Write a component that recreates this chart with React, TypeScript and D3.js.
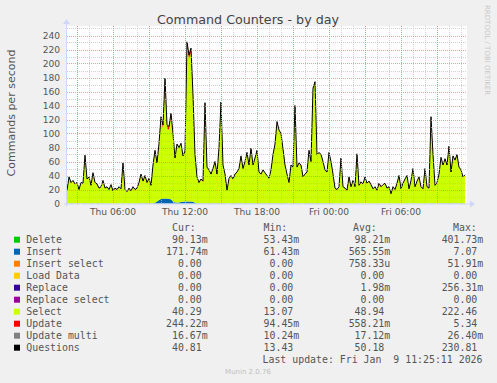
import React from 'react';
import * as d3 from 'd3';

// Questions (black line), 10-minute samples
const questions = [
  19,38,30,33,28,30,20,30,29,69,35,38,26,44,30,28,22,24,33,22,
  24,20,27,18,22,20,24,21,58,20,17,22,18,24,20,22,30,42,32,40,
  30,36,26,55,76,58,86,124,112,179,113,110,129,100,65,85,80,86,68,75,
  231,212,222,155,70,38,30,35,32,144,52,48,42,50,60,42,80,145,55,42,
  19,36,40,35,42,45,50,68,50,60,73,55,79,55,65,76,45,42,48,44,
  40,36,48,70,85,117,105,100,78,55,42,30,55,52,140,52,58,55,38,42,
  45,76,60,165,174,70,73,70,60,48,45,73,60,42,22,20,24,65,24,22,
  19,38,24,33,24,71,26,31,28,38,29,32,27,21,24,19,29,24,27,29,
  22,24,14,24,20,29,40,21,29,35,40,21,33,50,24,32,38,24,21,50,
  24,22,124,70,26,30,42,66,55,64,55,82,45,68,62,70,52,48,38,41,
];

// Select (yellow-green stacked area)
const select = [
  18,37,29,32,27,29,19,29,28,68,34,37,25,43,29,27,21,23,32,21,
  23,19,26,17,21,19,23,20,57,19,16,21,17,23,19,21,29,41,31,39,
  29,35,25,54,74.5,54.5,80.5,115,100.5,166.5,100.5,99,119.5,96.5,63,83,78,83.5,65,71.5,
  222.5,203.5,213.5,149,68.5,37,29,34,31,143,51,47,41,49,59,41,79,144,54,41,
  18,35,39,34,41,44,49,67,49,59,72,54,78,54,64,75,44,41,47,43,
  39,35,47,69,84,116,104,99,77,54,41,29,54,51,139,51,57,54,37,41,
  44,75,59,164,173,69,72,69,59,47,44,72,59,41,21,19,23,64,23,21,
  18,37,23,32,23,70,25,30,27,37,28,31,26,20,23,18,28,23,26,28,
  21,23,13,23,19,28,39,20,28,34,39,20,32,49,23,31,37,23,20,49,
  23,21,123,69,25,29,41,65,54,63,54,81,44,67,61,69,51,47,37,40.3,
];

// Insert (blue stacked area)
const insert = [
  0.2,0.1,0.2,0.2,0.1,0.2,0.2,0.1,0.2,0.3,0.2,0.1,0.2,0.2,0.1,0.2,0.2,0.1,0.2,0.1,
  0.2,0.1,0.2,0.1,0.1,0.2,0.1,0.1,0.3,0.1,0.1,0.2,0.1,0.1,0.2,0.1,0.2,0.2,0.2,0.2,
  0.2,0.2,0.2,0.3,1,3,5,6.5,7,7,7,6.5,6,3,1.5,1.5,1.5,2,2.5,3,
  3,3,3,2.5,1,0.3,0.2,0.2,0.2,0.4,0.2,0.2,0.2,0.2,0.3,0.2,0.2,0.4,0.2,0.2,
  0.1,0.2,0.2,0.2,0.2,0.2,0.2,0.3,0.2,0.2,0.3,0.2,0.3,0.2,0.2,0.3,0.2,0.2,0.2,0.2,
  0.2,0.2,0.2,0.2,0.3,0.4,0.3,0.3,0.2,0.2,0.2,0.1,0.2,0.2,0.4,0.2,0.2,0.2,0.1,0.2,
  0.2,0.3,0.2,0.4,0.4,0.2,0.2,0.2,0.2,0.2,0.2,0.2,0.2,0.2,0.1,0.1,0.1,0.2,0.1,0.1,
  0.1,0.2,0.1,0.1,0.1,0.2,0.1,0.1,0.1,0.1,0.1,0.1,0.1,0.1,0.1,0.1,0.1,0.1,0.1,0.1,
  0.1,0.1,0.1,0.1,0.1,0.1,0.2,0.1,0.1,0.1,0.2,0.1,0.1,0.2,0.1,0.1,0.2,0.1,0.1,0.2,
  0.1,0.1,0.3,0.2,0.1,0.1,0.2,0.2,0.2,0.2,0.2,0.2,0.2,0.2,0.2,0.2,0.2,0.2,0.2,0.17,
];

// Update (red stacked area)
const update = [
  0.3,0.3,0.3,0.3,0.3,0.3,0.3,0.3,0.3,0.4,0.3,0.3,0.3,0.3,0.3,0.3,0.3,0.3,0.3,0.3,
  0.3,0.3,0.3,0.3,0.3,0.3,0.3,0.3,0.4,0.3,0.3,0.3,0.3,0.3,0.3,0.3,0.3,0.3,0.3,0.3,
  0.3,0.3,0.3,0.4,0.5,0.5,0.5,2,4,5,5,4,3,0.5,0.5,0.5,0.5,0.5,0.5,0.5,
  4,5,5,3,0.5,0.4,0.3,0.3,0.3,0.6,0.3,0.3,0.3,0.3,0.3,0.3,0.3,0.6,0.3,0.3,
  0.3,0.3,0.3,0.3,0.3,0.3,0.3,0.3,0.3,0.3,0.3,0.3,0.3,0.3,0.3,0.3,0.3,0.3,0.3,0.3,
  0.3,0.3,0.3,0.3,0.3,0.5,0.4,0.4,0.3,0.3,0.3,0.3,0.3,0.3,0.5,0.3,0.3,0.3,0.3,0.3,
  0.3,0.3,0.3,0.5,0.5,0.3,0.3,0.3,0.3,0.3,0.3,0.3,0.3,0.3,0.3,0.3,0.3,0.3,0.3,0.3,
  0.3,0.3,0.3,0.3,0.3,0.3,0.3,0.3,0.3,0.3,0.3,0.3,0.3,0.3,0.3,0.3,0.3,0.3,0.3,0.3,
  0.3,0.3,0.3,0.3,0.3,0.3,0.3,0.3,0.3,0.3,0.3,0.3,0.3,0.3,0.3,0.3,0.3,0.3,0.3,0.3,
  0.3,0.3,0.4,0.3,0.3,0.3,0.3,0.3,0.3,0.3,0.3,0.3,0.3,0.3,0.3,0.3,0.3,0.3,0.3,0.24,
];

const yTicks = [0, 20, 40, 60, 80, 100, 120, 140, 160, 180, 200, 220, 240];

const legendNames = ['Delete', 'Insert', 'Insert select', 'Load Data', 'Replace', 'Replace select', 'Select', 'Update', 'Update multi', 'Questions'];
const legendColors = ['#00cc00', '#0066b3', '#ff8000', '#ffcc00', '#330099', '#990099', '#ccff00', '#ff0000', '#808080', '#000000'];
const curVals = ['90.13m', '171.74m', '0.00', '0.00', '0.00', '0.00', '40.29', '244.22m', '16.67m', '40.81'];
const minVals = ['53.43m', '61.43m', '0.00', '0.00', '0.00', '0.00', '13.07', '94.45m', '10.24m', '13.43'];
const avgVals = ['98.21m', '565.55m', '758.33u', '0.00', '1.98m', '0.00', '48.94', '558.21m', '17.12m', '50.18'];
const maxVals = ['401.73m', '7.07', '51.91m', '0.00', '256.31m', '0.00', '222.46', '5.34', '26.40m', '230.81'];

const W = 497;
const H = 383;
const PL = 67, PR = 467, PT = 26, PB = 203.5;

const startTime = new Date(2026, 0, 8, 2, 5, 0);
const endTime = new Date(2026, 0, 9, 11, 25, 0);

export default function App() {
  const x = d3.scaleTime().domain([startTime, endTime]).range([PL - 1, PR - 1]);
  const y = d3.scaleLinear().domain([0, 240]).range([PB, PB - 168]);

  const times = questions.map((_, i) => new Date(startTime.getTime() + (i * 10 + 5) * 60000));
  const rows = times.map((t, i) => ({ t, insert: insert[i], select: select[i], update: update[i] }));
  const stack = d3.stack<any>().keys(['insert', 'select', 'update'])(rows);
  const stackColors: Record<string, string> = { insert: '#0066b3', select: '#ccff00', update: '#ff0000' };

  const area = d3.area<any>()
    .x((d: any) => x(d.data.t))
    .y0((d: any) => y(d[0]))
    .y1((d: any) => y(d[1]));
  const qLine = d3.line<number>()
    .x((_, i) => x(times[i]))
    .y((d) => y(d));

  const minorX = d3.timeHour.every(1)!.range(startTime, endTime);
  const majorX = d3.timeHour.every(3)!.range(startTime, endTime);
  const labelX = d3.timeHour.every(6)!.range(startTime, endTime);
  const fmt = d3.timeFormat('%a %H:%M');
  const minorY = d3.range(10, 260, 20);

  const sans = 'DejaVu Sans, sans-serif';
  const mono = 'DejaVu Sans Mono, monospace';
  const textCol = '#555';
  const axisCol = '#cfd6f8';

  const split = (s: string) => {
    const m = s.match(/^([\d.]+)(\D?)$/);
    return m ? [m[1], m[2]] : [s, ''];
  };
  const cols = [201.7, 293.3, 384.3, 477.3];
  const colVals = [curVals, minVals, avgVals, maxVals];
  const heads = [['Cur:', 172], ['Min:', 263.5], ['Avg:', 353], ['Max:', 453]];

  return (
    <svg width={W} height={H} style={{ position: 'absolute', left: 0, top: 0, background: '#f0f0f0' }}>
      <rect x={0} y={0} width={W} height={H} fill="#f0f0f0" />
      <rect x={PL} y={PT} width={PR - PL} height={PB - PT} fill="#ffffff" />

      {stack.map((s: any) => (
        <path key={s.key} d={area(s) || ''} fill={stackColors[s.key]} />
      ))}
      <path d={qLine(questions) || ''} fill="none" stroke="#000" strokeWidth={1} />

      {/* grid */}
      {minorX.map((t, i) => (
        <line key={'mx' + i} x1={Math.round(x(t)) + 0.5} x2={Math.round(x(t)) + 0.5} y1={PT} y2={PB}
          stroke="#c0c0c0" strokeOpacity={0.75} strokeDasharray="1,1" />
      ))}
      {minorY.map((v) => (
        <line key={'my' + v} x1={PL} x2={PR} y1={Math.round(y(v)) + 0.5} y2={Math.round(y(v)) + 0.5}
          stroke="#c0c0c0" strokeOpacity={0.75} strokeDasharray="1,1" />
      ))}
      {majorX.map((t, i) => (
        <line key={'Mx' + i} x1={Math.round(x(t)) + 0.5} x2={Math.round(x(t)) + 0.5} y1={PT} y2={PB}
          stroke="#e68080" strokeOpacity={0.75} strokeDasharray="1,1" />
      ))}
      {yTicks.slice(1).map((v) => (
        <line key={'My' + v} x1={PL} x2={PR} y1={Math.round(y(v)) + 0.5} y2={Math.round(y(v)) + 0.5}
          stroke="#e68080" strokeOpacity={0.75} strokeDasharray="1,1" />
      ))}

      {/* axes */}
      <line x1={PL - 3} x2={PR + 3} y1={PB + 0.5} y2={PB + 0.5} stroke={axisCol} />
      <line x1={PL - 0.5} x2={PL - 0.5} y1={PB + 3} y2={PT - 2} stroke={axisCol} />
      <path d={`M${PR + 3},${PB - 3} L${PR + 8},${PB + 0.5} L${PR + 3},${PB + 4} Z`} fill={axisCol} />
      <path d={`M${PL - 4},${PT - 2} L${PL - 0.5},${PT - 7} L${PL + 3},${PT - 2} Z`} fill={axisCol} />

      {/* y tick labels */}
      {yTicks.map((v) => (
        <text key={'yl' + v} x={60} y={y(v) + 3.3} textAnchor="end" fontFamily={sans} fontSize={9.1} fill={textCol}>{v}</text>
      ))}
      {/* x tick labels */}
      {labelX.map((t, i) => (
        <text key={'xl' + i} x={x(t)} y={215} textAnchor="middle" fontFamily={sans} fontSize={9.1} fill={textCol}>{fmt(t)}</text>
      ))}

      {/* title and axis label */}
      <text x={248} y={23.5} textAnchor="middle" fontFamily={sans} fontSize={12.7} fill="#444">Command Counters - by day</text>
      <text transform="translate(15,113) rotate(-90)" textAnchor="middle" fontFamily={sans} fontSize={11} fill={textCol}>Commands per second</text>
      <text transform="translate(485,5) rotate(90)" textAnchor="start" fontFamily={sans} fontSize={7} fill="#c8c8c8">RRDTOOL / TOBI OETIKER</text>

      {/* legend */}
      {heads.map(([h, hx]) => (
        <text key={'h' + h} x={hx as number} y={231} fontFamily={mono} fontSize={9.9} fill={textCol}>{h}</text>
      ))}
      {legendNames.map((name, r) => {
        const by = 242.7 + r * 12;
        return (
          <g key={'lg' + r}>
            <rect x={14} y={by - 6} width={6} height={6} fill={legendColors[r]} />
            <text x={26.3} y={by} fontFamily={mono} fontSize={9.9} fill={textCol}>{name}</text>
            {cols.map((cx, c) => {
              const [num, suf] = split(colVals[c][r]);
              return (
                <g key={'c' + c}>
                  <text x={cx} y={by} textAnchor="end" fontFamily={mono} fontSize={9.9} fill={textCol}>{num}</text>
                  {suf && <text x={cx} y={by} fontFamily={mono} fontSize={9.9} fill={textCol}>{suf}</text>}
                </g>
              );
            })}
          </g>
        );
      })}
      <text x={482.5} y={362.7} textAnchor="end" fontFamily={mono} fontSize={9.9} fill={textCol} style={{ whiteSpace: 'pre' }}>{'Last update: Fri Jan  9 11:25:11 2026'}</text>
      <text x={248} y={374} textAnchor="middle" fontFamily={sans} fontSize={7} fill="#c0c0c0">Munin 2.0.76</text>
    </svg>
  );
}
